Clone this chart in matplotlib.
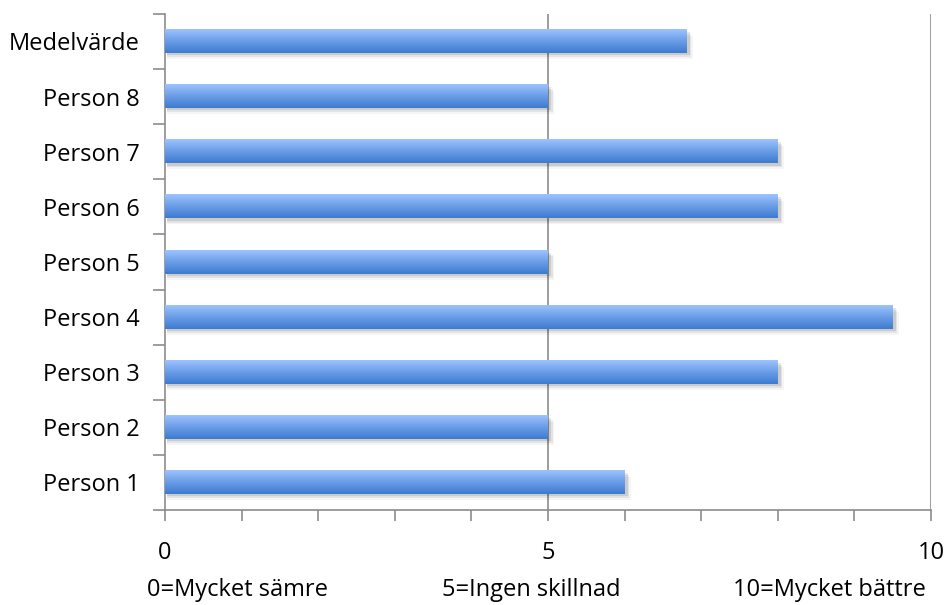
import matplotlib.pyplot as plt
import numpy as np
from matplotlib.colors import LinearSegmentedColormap
from matplotlib.patches import Rectangle

persons = ["Person 1", "Person 2", "Person 3", "Person 4", "Person 5",
           "Person 6", "Person 7", "Person 8"]
scores = [6, 5, 8, 9.5, 5, 8, 8, 5]
labels = persons + ["Medelvärde"]
values = scores + [sum(scores) / len(scores)]

scale_notes = ["0=Mycket sämre", "5=Ingen skillnad", "10=Mycket bättre"]
note_x = [0.94, 4.78, 8.67]

plt.rcParams['font.family'] = ['Open Sans', 'DejaVu Sans']

fig = plt.figure(figsize=(9.49, 6.05), dpi=100)
ax = fig.add_axes([0.1739, 0.157, 0.8071, 0.820])

axis_grey = "#8c8c8c"
bar_h = 0.42
cmap = LinearSegmentedColormap.from_list("barfill", ["#3d7bd0", "#6a9de6", "#9dc3ff"])
grad = np.linspace(0, 1, 64).reshape(-1, 1)

y = np.arange(len(labels))
for yi, v in zip(y, values):
    # soft drop shadow under each bar
    for k, a in enumerate([0.10, 0.07, 0.04]):
        off = 0.04 + 0.035 * k
        ax.add_patch(Rectangle((0.02, yi - bar_h / 2 - off), v + 0.02 + 0.02 * k, bar_h,
                               facecolor="black", alpha=a, lw=0, zorder=2))
    # vertical gradient fill, dark at the bottom
    ax.imshow(grad, cmap=cmap, aspect="auto", origin="lower",
              extent=(0, v, yi - bar_h / 2, yi + bar_h / 2), zorder=3,
              interpolation="bicubic")

ax.set_xlim(0, 10)
ax.set_ylim(-0.5, len(labels) - 0.5)

for gx in [5, 10]:
    ax.axvline(gx, color=axis_grey, lw=1.2, zorder=1)

ax.set_xticks(range(0, 11))
ax.set_xticklabels(["0", "", "", "", "", "5", "", "", "", "", "10"])
ax.set_yticks(np.arange(-0.5, len(labels), 1.0))
ax.set_yticklabels([])
ax.set_yticks(y, minor=True)
ax.set_yticklabels(labels, minor=True)
ax.tick_params(axis="y", which="minor", length=0, pad=18, labelsize=17)
ax.tick_params(axis="y", which="major", length=9, width=1.2, color=axis_grey)
ax.tick_params(axis="x", length=8, width=1.2, color=axis_grey, pad=14, labelsize=17)

for side in ["top", "right"]:
    ax.spines[side].set_visible(False)
for side in ["left", "bottom"]:
    ax.spines[side].set_color(axis_grey)
    ax.spines[side].set_linewidth(1.2)

for xv, note in zip(note_x, scale_notes):
    ax.text(xv, -1.95, note, ha="center", va="center", fontsize=17, clip_on=False)

fig.savefig("out.png", dpi=100, facecolor="white")
